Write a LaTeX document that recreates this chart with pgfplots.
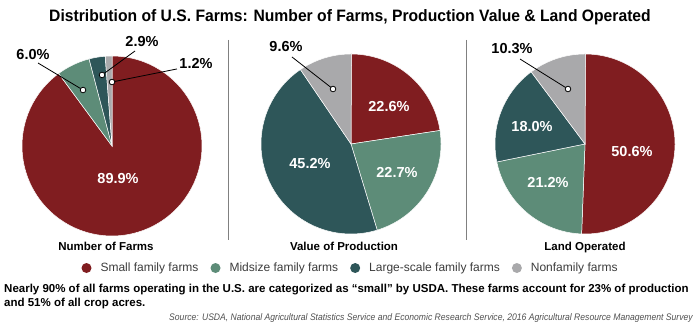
\documentclass[border=0pt]{standalone}
\usepackage{fontspec}
\setmainfont{Liberation Sans}
\newfontfamily\condfont[FakeStretch=0.95]{Liberation Sans}
\newfontfamily\srcfont[FakeStretch=0.905]{Liberation Sans}
\usepackage{pgfplots}
\usepackage{pgfplotstable}
\pgfplotsset{compat=1.18}

\definecolor{cSmall}{RGB}{128,29,32}
\definecolor{cMid}{RGB}{93,140,120}
\definecolor{cLarge}{RGB}{46,86,89}
\definecolor{cNon}{RGB}{169,169,171}
\definecolor{legtext}{RGB}{60,60,60}

% shares (%) of each farm type
\pgfplotstableread{
category farms production land
Small    89.9  22.6       50.6
Midsize  6.0   22.7       21.2
Large    2.9   45.2       18.0
Non      1.2   9.6        10.3
}\farmdata

\newcommand{\pieslice}[3]{% #1 column, #2 row, #3 colour
  \pgfplotstablegetelem{#2}{#1}\of\farmdata
  \pgfmathsetmacro{\slicestart}{\cumangle-3.6*\pgfplotsretval}%
  \edef\doslice{\noexpand\addplot[fill=#3, draw=white, line width=0.5pt, domain=\slicestart:\cumangle, samples=120] ({cos(x)},{sin(x)}) -- (0,0) -- cycle;}%
  \doslice
  \global\let\cumangle\slicestart
}
\newcommand{\drawpie}[1]{%
  \gdef\cumangle{90}%
  \pieslice{#1}{0}{cSmall}%
  \pieslice{#1}{1}{cMid}%
  \pieslice{#1}{2}{cLarge}%
  \pieslice{#1}{3}{cNon}%
}

\newcommand{\pctfont}{\bfseries\fontsize{14.5}{16}\selectfont}
\newcommand{\leader}[4]{%
  \draw[black, line width=0.8pt] (axis cs:#1,#2) -- (axis cs:#3,#4);
  \draw[black, fill=white, line width=0.8pt] (axis cs:#3,#4) circle (2.8pt);
}

\pgfplotsset{pieaxis/.style={width=180pt, height=180pt, scale only axis,
  xmin=-1, xmax=1, ymin=-1, ymax=1, hide axis, clip=false, anchor=center,
  legend image code/.code={\path[##1, draw=none] (0pt,0pt) circle (5pt);}}}

\begin{document}
\begin{tikzpicture}
\path[use as bounding box] (0pt,0pt) rectangle (700pt,328pt);

\node[anchor=base, font=\condfont\bfseries\fontsize{16.5}{18}\selectfont] at (350pt,306pt)
  {Distribution of U.S. Farms: Number of Farms, Production Value \& Land Operated};

% pie 1
\begin{axis}[pieaxis, at={(112pt,182pt)}]
  \drawpie{farms}
  \node[white, font=\pctfont] at (axis cs:0.067,-0.356) {89.9\%};
  \leader{-0.822}{0.922}{-0.322}{0.622}
  \leader{0.256}{1.056}{-0.111}{0.789}
  \leader{0.722}{0.856}{0.0}{0.711}
  \node[font=\pctfont] at (axis cs:-0.878,1.011) {6.0\%};
  \node[font=\pctfont] at (axis cs:0.333,1.156) {2.9\%};
  \node[font=\pctfont] at (axis cs:0.933,0.922) {1.2\%};
\end{axis}

% pie 2
\begin{axis}[pieaxis, at={(351pt,184pt)},
  legend columns=4,
  legend style={at={(0.503,-0.189)}, anchor=center, draw=none, fill=none,
    font=\fontsize{12}{14}\selectfont, text=legtext,
    cells={anchor=west}, nodes={inner xsep=4pt, inner ysep=1pt},
    /tikz/every odd column/.append style={column sep=5pt},
    /tikz/every even column/.append style={column sep=8pt}}]
  \drawpie{production}
  \node[white, font=\pctfont] at (axis cs:0.422,0.411) {22.6\%};
  \node[white, font=\pctfont] at (axis cs:0.511,-0.322) {22.7\%};
  \node[white, font=\pctfont] at (axis cs:-0.456,-0.222) {45.2\%};
  \leader{-0.656}{0.967}{-0.2}{0.611}
  \node[font=\pctfont] at (axis cs:-0.722,1.078) {9.6\%};
  \legend{Small family farms, Midsize family farms, Large-scale family farms, Nonfamily farms}
\end{axis}

% pie 3
\begin{axis}[pieaxis, at={(585pt,184pt)}]
  \drawpie{land}
  \node[white, font=\pctfont] at (axis cs:0.522,-0.089) {50.6\%};
  \node[white, font=\pctfont] at (axis cs:-0.411,-0.433) {21.2\%};
  \node[white, font=\pctfont] at (axis cs:-0.589,0.189) {18.0\%};
  \leader{-0.722}{0.944}{-0.189}{0.611}
  \node[font=\pctfont] at (axis cs:-0.811,1.056) {10.3\%};
\end{axis}

% separators
\draw[gray, line width=1pt] (228pt,288pt) -- (228pt,88pt);
\draw[gray, line width=1pt] (466pt,288pt) -- (466pt,88pt);

% pie titles
\begin{scope}[every node/.style={anchor=base, font=\bfseries\fontsize{11.5}{13}\selectfont}]
\node at (106pt,77pt) {Number of Farms};
\node at (344pt,77pt) {Value of Production};
\node at (585pt,77pt) {Land Operated};
\end{scope}

\node[anchor=base west, inner sep=0pt, font=\bfseries\fontsize{11.5}{14}\selectfont] at (4pt,35pt)
  {Nearly 90\% of all farms operating in the U.S. are categorized as “small” by USDA. These farms account for 23\% of production};
\node[anchor=base west, inner sep=0pt, font=\bfseries\fontsize{11.5}{14}\selectfont] at (4pt,21pt)
  {and 51\% of all crop acres.};

\node[anchor=base east, inner sep=0pt, text={rgb,255:red,80;green,80;blue,80}, font=\srcfont\itshape\fontsize{9.5}{11}\selectfont] at (693pt,7pt)
  {Source: USDA, National Agricultural Statistics Service and Economic Research Service, 2016 Agricultural Resource Management Survey};
\end{tikzpicture}
\end{document}
